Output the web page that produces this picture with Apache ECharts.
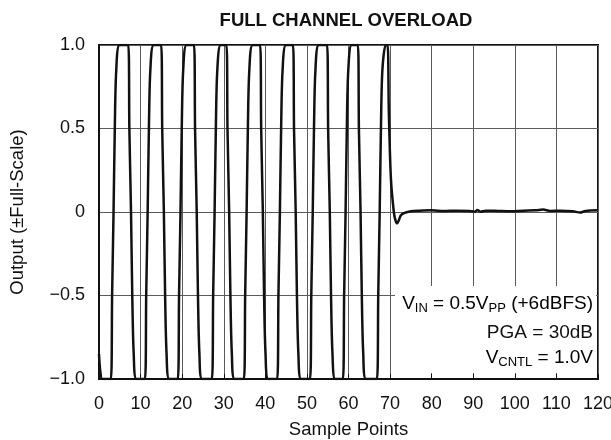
<!DOCTYPE html>
<html>
<head>
<meta charset="utf-8">
<script src="https://cdn.jsdelivr.net/npm/echarts@6/dist/echarts.min.js"></script>
<style>html,body{margin:0;padding:0;background:#fff}#c{width:611px;height:440px}</style>
</head>
<body>
<div id="c"></div>
<script>
// Sample index (x) and output (y, ±full scale)
const sampleX = [
  0, 0.3, 0.8,
  2.85, 3.15, 3.5, 3.8, 4.15, 4.95,
  7.05, 7.3, 7.7, 8.0, 8.35, 9.0,
  11.05, 11.35, 11.7, 12.0, 12.35, 13.15,
  14.95, 15.2, 15.6, 15.9, 16.25, 16.9,
  18.95, 19.25, 19.6, 19.9, 20.25, 21.05,
  22.85, 23.1, 23.5, 23.8, 24.15, 24.8,
  27.15, 27.45, 27.8, 28.1, 28.45, 29.25,
  30.65, 30.9, 31.3, 31.6, 31.95, 32.6,
  34.85, 35.15, 35.5, 35.8, 36.15, 36.95,
  38.75, 39.0, 39.4, 39.7, 40.05, 40.7,
  42.85, 43.15, 43.5, 43.8, 44.15, 44.95,
  46.65, 46.9, 47.3, 47.6, 47.95, 48.6,
  50.75, 51.05, 51.4, 51.7, 52.05, 52.85,
  54.85, 55.1, 55.5, 55.8, 56.15, 56.8,
  58.65, 58.95, 59.3, 59.6, 59.95, 60.75,
  62.25, 62.5, 62.9, 63.2, 63.55, 64.2,
  66.85, 67.15, 67.5, 67.8, 68.15, 68.95,
  69.4, 69.7, 70.2, 70.9, 71.3, 71.7, 72.1, 72.6, 73.5, 75, 77, 80, 83, 86, 89,
  90.4, 91, 91.7, 93, 96, 99, 102, 105, 106.8, 108.5, 111, 114, 115.7, 117, 120
];
const outputY = [
  -0.85, -0.95, -1,
  -1, -0.5, 0, 0.5, 0.85, 1,
  1, 0.5, 0, -0.5, -0.85, -1,
  -1, -0.5, 0, 0.5, 0.85, 1,
  1, 0.5, 0, -0.5, -0.85, -1,
  -1, -0.5, 0, 0.5, 0.85, 1,
  1, 0.5, 0, -0.5, -0.85, -1,
  -1, -0.5, 0, 0.5, 0.85, 1,
  1, 0.5, 0, -0.5, -0.85, -1,
  -1, -0.5, 0, 0.5, 0.85, 1,
  1, 0.5, 0, -0.5, -0.85, -1,
  -1, -0.5, 0, 0.5, 0.85, 1,
  1, 0.5, 0, -0.5, -0.85, -1,
  -1, -0.5, 0, 0.5, 0.85, 1,
  1, 0.5, 0, -0.5, -0.85, -1,
  -1, -0.5, 0, 0.5, 0.85, 1,
  1, 0.5, 0, -0.5, -0.85, -1,
  -1, -0.5, 0, 0.5, 0.85, 1,
  1, 0.6, 0.2, 0, -0.05, -0.068, -0.05, -0.02, -0.005, 0.005, 0.008, 0.01, 0.006, 0.008, 0.006,
  0.002, 0.012, 0.002, 0.008, 0.006, 0.004, 0.008, 0.01, 0.015, 0.006, 0.008, 0.004, -0.003, 0.006, 0.01
];
const yTickLabels = {'1': '1.0', '0.5': '0.5', '0': '0', '-0.5': '\u22120.5', '-1': '\u22121.0'};
const titleText = 'FULL CHANNEL OVERLOAD';
const xName = 'Sample Points';
const yName = 'Output (\u00B1Full-Scale)';

const FONT = '"Liberation Sans", Arial, Helvetica, sans-serif';
const chart = echarts.init(document.getElementById('c'), null, {renderer: 'canvas'});
const data = sampleX.map((x, i) => [x, outputY[i]]);
const rich = {
  n: {fontFamily: FONT, fontSize: 19, color: '#111'},
  s: {fontFamily: FONT, fontSize: 13, color: '#111', padding: [10, 0, 0, 0]}
};

chart.setOption({
  animation: false,
  backgroundColor: '#fff',
  title: {
    text: titleText, left: 341, top: 6, textAlign: 'center',
    textStyle: {fontFamily: FONT, fontSize: 18.5, fontWeight: 'bold', color: '#111'}
  },
  grid: {left: 99, right: 13, top: 45, bottom: 61, outerBoundsMode: 'none', containLabel: false,
    show: true, borderColor: '#111', borderWidth: 2, backgroundColor: '#fff'},
  xAxis: {
    type: 'value', min: 0, max: 120, interval: 10,
    name: xName, nameLocation: 'middle', nameGap: 41,
    nameTextStyle: {fontFamily: FONT, fontSize: 18.5, color: '#111'},
    axisLine: {show: true, onZero: false, lineStyle: {color: '#111', width: 2}},
    axisTick: {show: true, inside: true, length: 5, lineStyle: {color: '#111'}},
    axisLabel: {fontFamily: FONT, fontSize: 18, color: '#111', margin: 16},
    splitLine: {show: true, lineStyle: {color: '#5a5a5a', width: 1}}
  },
  yAxis: {
    type: 'value', min: -1, max: 1, interval: 0.5,
    name: yName, nameLocation: 'middle', nameGap: 72, nameRotate: 90,
    nameTextStyle: {fontFamily: FONT, fontSize: 18.5, color: '#111'},
    axisLine: {show: true, onZero: false, lineStyle: {color: '#111', width: 2}},
    axisTick: {show: false},
    axisLabel: {fontFamily: FONT, fontSize: 18, color: '#111', margin: 14,
      formatter: v => yTickLabels[String(v)] !== undefined ? yTickLabels[String(v)] : String(v)},
    splitLine: {show: true, lineStyle: {color: '#5a5a5a', width: 1}}
  },
  series: [{
    type: 'line', data: data, showSymbol: false, smooth: 0.3,
    lineStyle: {color: '#111', width: 2.5},
    clip: true,
    z: 3
  }],
  graphic: [
    {type: 'rect', z: 1, silent: true,
      shape: {x: 395, y: 286, width: 201, height: 87},
      style: {fill: '#fff'}},
    {type: 'text', right: 18, top: 294, z: 100,
      style: {text: '{n|V}{s|IN}{n| = 0.5V}{s|PP}{n| (+6dBFS)}', rich: rich}},
    {type: 'text', right: 18, top: 323, z: 100,
      style: {text: 'PGA = 30dB', fill: '#111', font: '19px ' + FONT}},
    {type: 'text', right: 18, top: 348, z: 100,
      style: {text: '{n|V}{s|CNTL}{n| = 1.0V}', rich: rich}}
  ]
});
</script>
</body>
</html>
